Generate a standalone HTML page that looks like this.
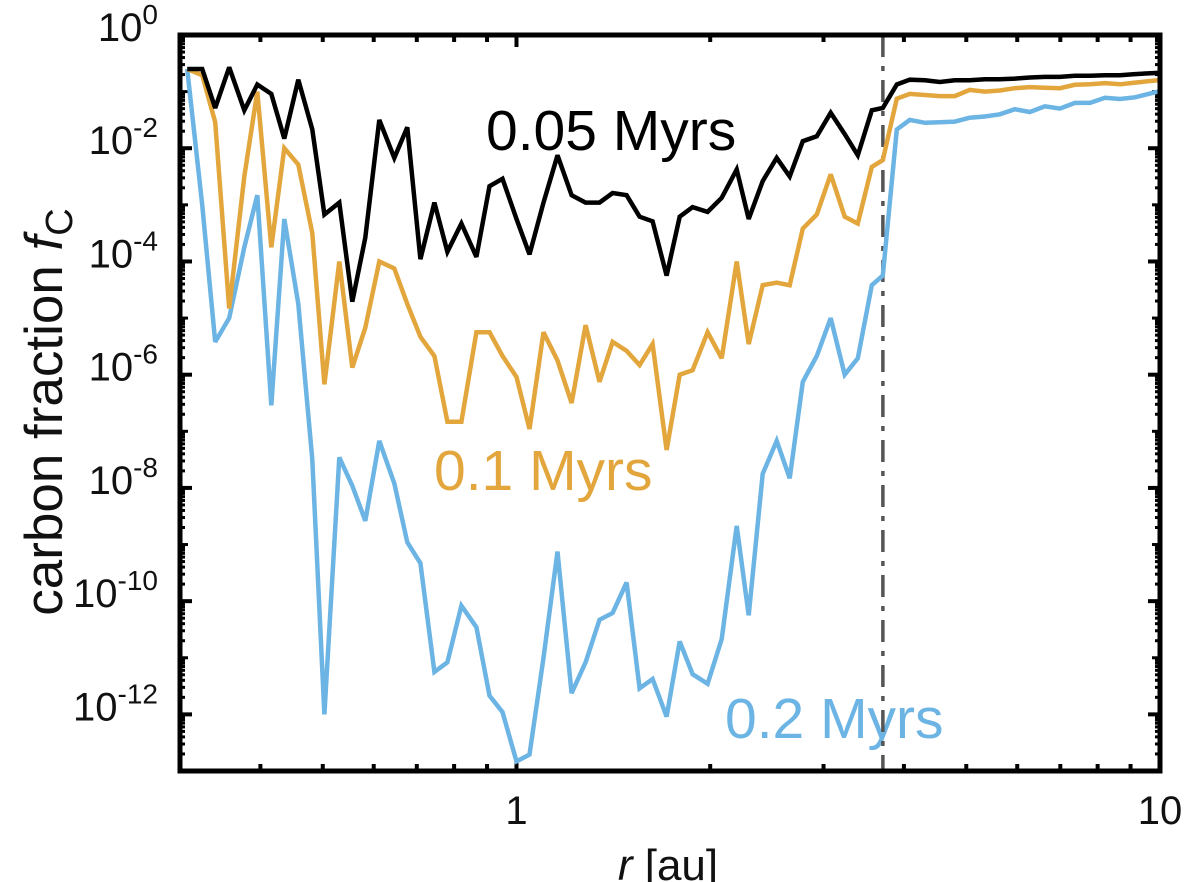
<!DOCTYPE html>
<html><head><meta charset="utf-8"><style>
html,body{margin:0;padding:0;background:#fff;}
svg{display:block;font-family:"Liberation Sans",Arial,sans-serif;}
</style></head><body>
<svg id="chart" width="1200" height="882" viewBox="0 0 1200 882" xmlns="http://www.w3.org/2000/svg">
<text x="486" y="150" font-size="57" fill="#000">0.05 Myrs</text>
<text x="434" y="490" font-size="57" fill="#e2a63c">0.1 Myrs</text>
<text x="725" y="738" font-size="57" fill="#6cb4e4">0.2 Myrs</text>
<text transform="translate(62,412) rotate(-90)" text-anchor="middle" font-size="53" fill="#111">carbon fraction <tspan font-style="italic">f</tspan><tspan font-size="38" dy="10">C</tspan></text>
<text x="668" y="880" text-anchor="middle" font-size="44" fill="#111"><tspan font-style="italic">r</tspan> [au]</text>
</svg>
<script>
const radiusAu = [0.3078,0.3248,0.3403,0.3578,0.3776,0.3956,0.4159,0.4357,0.4581,0.4817,0.5029,0.5305,0.5557,0.5822,0.6121,0.6459,0.6767,0.7090,0.7456,0.7810,0.8211,0.8665,0.9080,0.9511,1.0,1.0476,1.1014,1.1580,1.2178,1.2804,1.3461,1.4104,1.4829,1.5535,1.6277,1.7114,1.7930,1.8778,1.9815,2.0838,2.1987,2.2954,2.4134,2.5373,2.6583,2.7853,2.9283,3.0785,3.2366,3.3911,3.5651,3.7093,3.8994,4.0857,4.3111,4.5499,4.7991,5.0619,5.3427,5.6387,5.9475,6.2777,6.6240,6.9907,7.3760,7.7842,8.2147,8.6660,9.1431,9.929];
const logFc005 = [-0.6,-0.6,-1.29,-0.57,-1.33,-0.875,-1.04,-1.83,-0.79,-1.67,-3.17,-2.96,-4.71,-3.58,-1.5,-2.17,-1.63,-3.96,-2.96,-3.83,-3.33,-3.92,-2.67,-2.54,-3.25,-3.875,-2.96,-2.125,-2.83,-2.96,-2.96,-2.79,-2.83,-3.21,-3.29,-4.25,-3.21,-3.04,-3.125,-2.875,-2.375,-3.25,-2.58,-2.17,-2.5,-1.875,-1.79,-1.375,-1.75,-2.125,-1.33,-1.29,-0.875,-0.79,-0.8,-0.83,-0.8,-0.8,-0.78,-0.78,-0.77,-0.75,-0.74,-0.74,-0.72,-0.72,-0.71,-0.71,-0.69,-0.67];
const logFc01 = [-0.6,-0.71,-1.54,-4.83,-2.5,-1.0,-3.75,-2.0,-2.29,-3.5,-6.17,-4.0,-5.875,-5.17,-4.0,-4.125,-4.75,-5.33,-5.67,-6.83,-6.83,-5.25,-5.25,-5.67,-6.04,-6.96,-5.25,-5.75,-6.5,-5.125,-6.125,-5.42,-5.58,-5.83,-5.46,-7.33,-6.0,-5.92,-5.25,-5.71,-4.0,-5.46,-4.42,-4.375,-4.42,-3.42,-3.17,-2.46,-3.21,-3.33,-2.33,-2.21,-1.125,-1.04,-1.06,-1.08,-1.08,-0.97,-1.0,-0.98,-0.94,-0.92,-0.93,-0.94,-0.88,-0.87,-0.85,-0.87,-0.84,-0.8];
const logFc02 = [-0.6,-3.0,-5.42,-5.0,-3.75,-2.83,-6.54,-3.25,-4.75,-7.5,-12.0,-7.46,-7.96,-8.58,-7.17,-7.92,-8.96,-9.33,-11.25,-11.08,-10.08,-10.46,-11.67,-11.96,-12.83,-12.71,-11.0,-9.125,-11.625,-11.08,-10.33,-10.21,-9.67,-11.54,-11.375,-12.04,-10.71,-11.29,-11.46,-10.67,-8.67,-10.25,-7.75,-7.17,-7.83,-6.125,-5.67,-5.0,-6.0,-5.71,-4.42,-4.25,-1.67,-1.5,-1.55,-1.54,-1.53,-1.46,-1.44,-1.4,-1.31,-1.36,-1.26,-1.3,-1.2,-1.2,-1.11,-1.13,-1.1,-1.0];
const yTickExps = [0,-2,-4,-6,-8,-10,-12];
const xTickLabels = [1,10];
const snowLine = 3.71;

const NS='http://www.w3.org/2000/svg';
const svg=document.getElementById('chart');
const L=180,R=1160,T=35,B=771;
const xMin=0.3,xMax=10,yMinExp=-13,yMaxExp=0;
function xs(r){return L+(Math.log10(r)-Math.log10(xMin))/(Math.log10(xMax)-Math.log10(xMin))*(R-L);}
function ys(e){return T+(yMaxExp-e)/(yMaxExp-yMinExp)*(B-T);}
function mk(tag,attrs){const el=document.createElementNS(NS,tag);for(const k in attrs)el.setAttribute(k,attrs[k]);svg.appendChild(el);return el;}

for(let d=-1;d<=1;d++){for(let m=1;m<=9;m++){const v=m*Math.pow(10,d);if(v<xMin||v>xMax)continue;const x=xs(v);const len=m===1?12:7;
const t1=mk('line',{x1:x,y1:B,x2:x,y2:B-len,stroke:'#000','stroke-width':4});


const t2=mk('line',{x1:x,y1:T,x2:x,y2:T+len,stroke:'#000','stroke-width':4});

}}
for(let e=-13;e<=0;e++){for(let m=1;m<=9;m++){const lv=e+Math.log10(m);if(lv>0||lv<yMinExp)continue;const y=ys(lv);const major=(m===1&&e%2===0);const len=major?12:(m===1?8:5);
const t1=mk('line',{x1:L,y1:y,x2:L+len,y2:y,stroke:'#000','stroke-width':major?4:3});


const t2=mk('line',{x1:R,y1:y,x2:R-len,y2:y,stroke:'#000','stroke-width':major?4:3});

}}

const sl=mk('line',{x1:xs(snowLine),y1:T,x2:xs(snowLine),y2:B,stroke:'#555','stroke-width':3.5,'stroke-dasharray':'22 9 5 9'});



function series(vals,color,name){const pts=vals.map((v,i)=>xs(radiusAu[i]).toFixed(1)+','+ys(v).toFixed(1)).join(' ');
const p=mk('polyline',{points:pts,fill:'none',stroke:color,'stroke-width':4.5,'stroke-linejoin':'miter','stroke-miterlimit':3});

}
series(logFc02,'#6cb4e4','line-0.2-myrs');
series(logFc01,'#e2a63c','line-0.1-myrs');
series(logFc005,'#000000','line-0.05-myrs');

const fr=mk('rect',{x:L,y:T,width:R-L,height:B-T,fill:'none',stroke:'#000','stroke-width':5});



yTickExps.forEach(e=>{const t=mk('text',{x:158,y:ys(e)+6,'text-anchor':'end','font-size':40,fill:'#111'});


t.innerHTML='10<tspan dy="-17" font-size="28">'+e+'</tspan>';});
xTickLabels.forEach(v=>{const t=mk('text',{x:xs(v),y:824,'text-anchor':'middle','font-size':40,fill:'#111'});


t.textContent=String(v);});
</script>
</body></html>
